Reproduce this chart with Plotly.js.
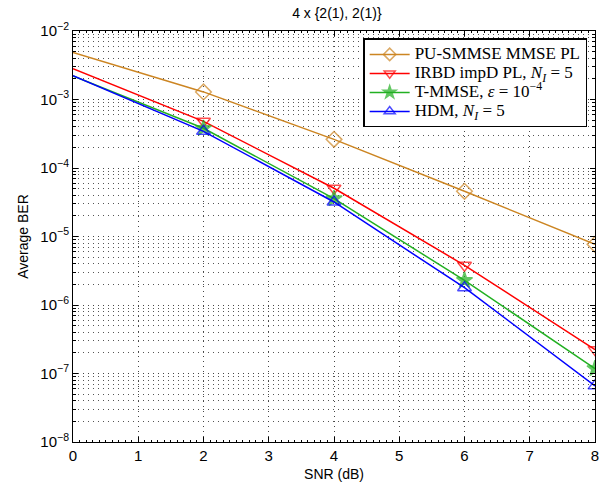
<!DOCTYPE html>
<html><head><meta charset="utf-8">
<script src="https://cdn.plot.ly/plotly-3.0.1.min.js"></script>
<style>body{margin:0;background:#fff}#c{width:607px;height:489px}</style>
</head><body><div id="c"></div>
<script>
const snr = [0, 2, 4, 6, 8];
const puSmmse = [4.84e-3, 1.29e-3, 2.62e-4, 4.57e-5, 7.7e-6];
const irbd = [2.82e-3, 4.8e-4, 5.06e-5, 3.8e-6, 2.23e-7];
const tmmse = [2.2e-3, 3.8e-4, 3.57e-5, 2.29e-6, 1.18e-7];
const hdm = [2.22e-3, 3.43e-4, 3.19e-5, 1.79e-6, 6.6e-8];
const names = [
  'PU-SMMSE MMSE PL',
  'IRBD impD PL, <i>N</i><sub><i>I</i></sub> = 5',
  'T-MMSE, <i>ε</i> = 10<sup>−4</sup>',
  'HDM, <i>N</i><sub><i>I</i></sub> = 5'
];
const yTickVals = [1e-8,1e-7,1e-6,1e-5,1e-4,1e-3,1e-2];
const yTickText = ['10<sup>−8</sup>','10<sup>−7</sup>','10<sup>−6</sup>','10<sup>−5</sup>','10<sup>−4</sup>','10<sup>−3</sup>','10<sup>−2</sup>'];

const colors = ['#CC8522', '#FF0000', '#22B022', '#0000FF'];
const symbols = ['diamond-open', 'triangle-down-open', 'star', 'triangle-up-open'];
const series = [puSmmse, irbd, tmmse, hdm];
const sizes = [0, 12, 12, 12, 12];
const traces = series.map((s, i) => ({
  x: snr, y: s, name: '<span style="font-size:17px">' + names[i] + '</span>',
  type: 'scatter', mode: 'lines+markers',
  line: {color: colors[i], width: 1.5},
  marker: {symbol: symbols[i], size: sizes, color: colors[i], line: {color: colors[i], width: 1.5}}
}));

const gridDash = '1px,4px';
const layout = {
  width: 607, height: 489,
  margin: {l: 73, r: 12, t: 31, b: 47},
  paper_bgcolor: '#fff', plot_bgcolor: '#fff',
  font: {family: 'Liberation Sans, Arial, sans-serif', size: 14, color: '#000'},
  title: {text: '4 x {2(1), 2(1)}', x: 0.555, xanchor: 'center', y: 0.983, yanchor: 'top', font: {size: 14}},
  xaxis: {
    range: [0, 8], dtick: 1, tick0: 0,
    showline: true, linecolor: '#000', linewidth: 1, mirror: 'ticks',
    ticks: 'inside', ticklen: 5, tickcolor: '#000',
    showgrid: true, gridcolor: '#444', griddash: gridDash, gridwidth: 1,
    minor: {dtick: 0.1, ticks: 'inside', ticklen: 2, tickcolor: '#000', showgrid: false},
    zeroline: false, tickfont: {size: 15},
    title: {text: 'SNR (dB)', font: {size: 14}, standoff: 6}
  },
  yaxis: {
    type: 'log', range: [-8, -2],
    tickvals: yTickVals, ticktext: yTickText,
    showline: true, linecolor: '#000', linewidth: 1, mirror: 'ticks',
    ticks: 'inside', ticklen: 5, tickcolor: '#000',
    showgrid: true, gridcolor: '#444', griddash: gridDash, gridwidth: 1,
    minor: {dtick: 'D1', showgrid: true, gridcolor: '#555', griddash: gridDash, gridwidth: 1, ticks: 'inside', ticklen: 3, tickcolor: '#000'},
    zeroline: false, tickfont: {size: 15},
    title: {text: 'Average BER', font: {size: 14}, standoff: 8}
  },
  legend: {
    x: 0.985, xanchor: 'right', y: 0.982, yanchor: 'top',
    bgcolor: '#fff', bordercolor: '#000', borderwidth: 1.5,
    font: {family: 'Liberation Serif, Times New Roman, serif', size: 12},
    tracegroupgap: 0, itemwidth: 40
  },
  showlegend: true
};
Plotly.newPlot('c', traces, layout, {displayModeBar: false, staticPlot: true});
</script></body></html>
